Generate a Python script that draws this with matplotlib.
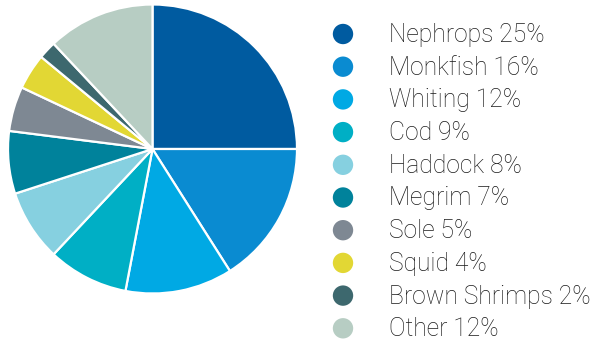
import matplotlib.pyplot as plt

species = ['Nephrops', 'Monkfish', 'Whiting', 'Cod', 'Haddock', 'Megrim',
           'Sole', 'Squid', 'Brown Shrimps', 'Other']
shares = [25, 16, 12, 9, 8, 7, 5, 4, 2, 12]
colors = ['#005ba0', '#0a8bd1', '#00a9e4', '#00afc5', '#86d0e0', '#00829b',
          '#7e8893', '#e2d734', '#3d686e', '#b7cdc3']

W, H = 595, 342
fig = plt.figure(figsize=(W / 100, H / 100), dpi=100)

# pie centre and radius in pixels
cx, cy, r = 152.5, 149, 144.5
ax = fig.add_axes([(cx - r) / W, 1 - (cy + r) / H, 2 * r / W, 2 * r / H])
ax.pie(shares, colors=colors, startangle=90, counterclock=False,
       wedgeprops=dict(edgecolor='white', linewidth=1.6))
ax.set_xlim(-1, 1)
ax.set_ylim(-1, 1)
ax.set_aspect('equal')

# legend drawn by hand on a pixel-coordinate overlay
lg = fig.add_axes([0, 0, 1, 1])
lg.set_xlim(0, W)
lg.set_ylim(H, 0)
lg.axis('off')
x_dot, x_txt = 343, 389
y0, dy = 34, 32.7
ys = [y0 + i * dy for i in range(len(species))]
lg.scatter([x_dot] * len(ys), ys, s=215, c=colors, linewidths=0)
for y, name, val in zip(ys, species, shares):
    lg.text(x_txt, y + 1, f'{name} {val}%', fontsize=17.7,
            family='Roboto', fontweight='light', color='#1a1a1a',
            va='center', ha='left')

fig.savefig('out.png', dpi=100)
